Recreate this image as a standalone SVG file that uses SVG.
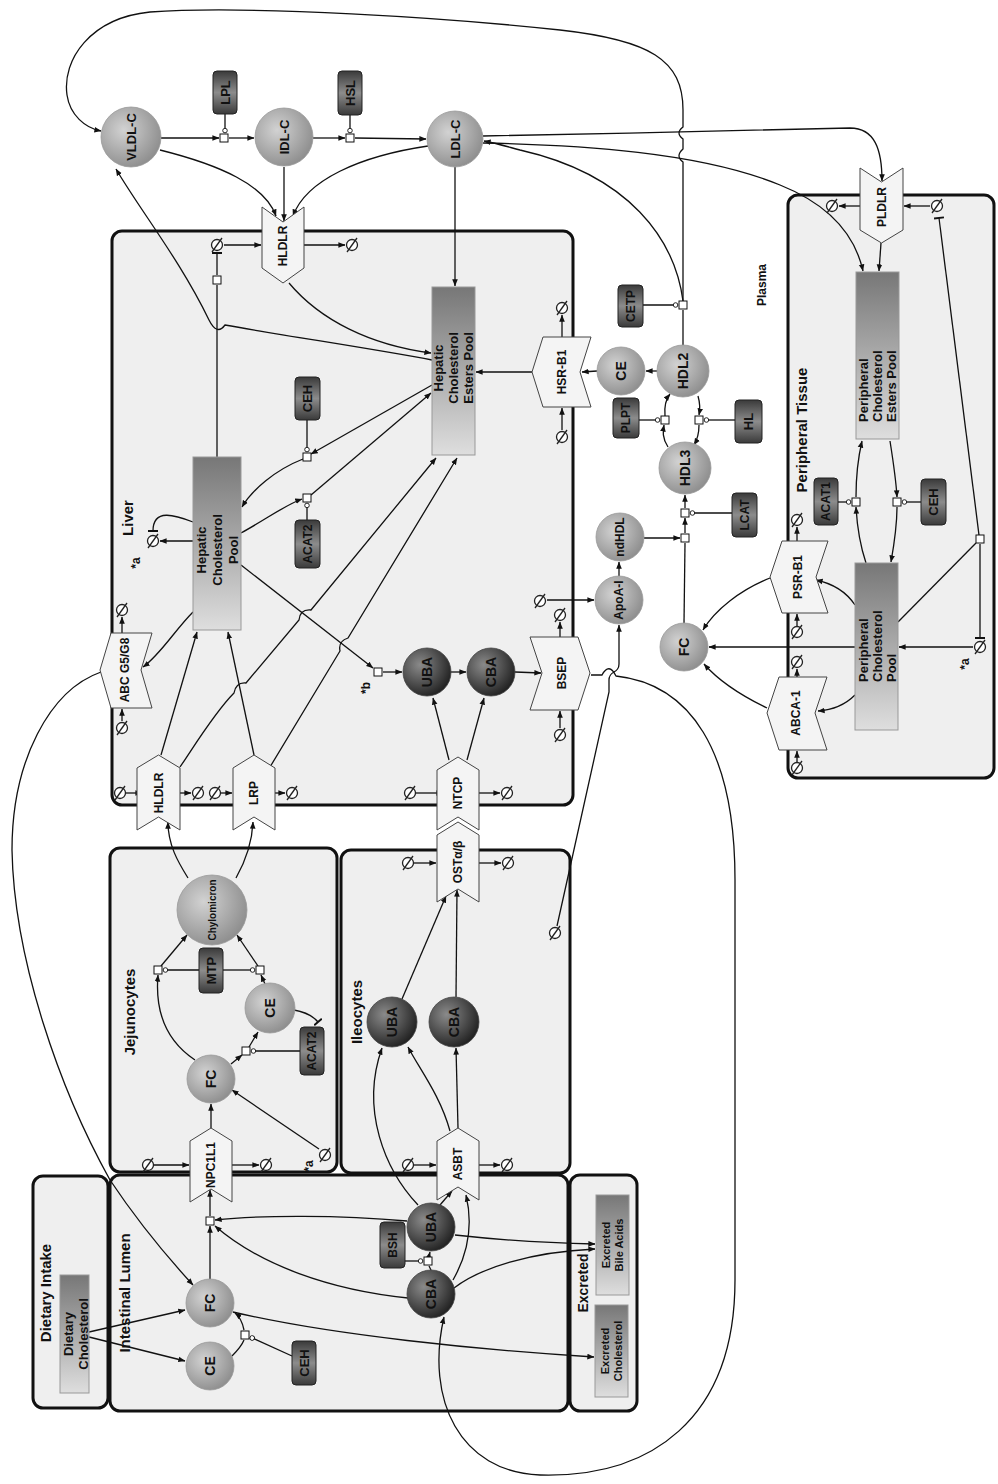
<svg xmlns="http://www.w3.org/2000/svg" xmlns:xlink="http://www.w3.org/1999/xlink" width="998" height="1484" viewBox="0 0 998 1484">
<defs>
<style>
.cmp{fill:#efefef;stroke:#111;stroke-width:3}
.tr{fill:#f4f4f4;stroke:#444;stroke-width:1}
.ln{fill:none;stroke:#111;stroke-width:1.3}
.sq{fill:#fff;stroke:#111;stroke-width:1}
.enz{fill:url(#gE);stroke:#222;stroke-width:1}
.pool{fill:url(#gP);stroke:#999;stroke-width:1}
.nd{fill:url(#gC);stroke:#999;stroke-width:0.8}
.dk{fill:url(#gD);stroke:#444;stroke-width:0.8}
text{font-family:"Liberation Sans",Arial,sans-serif;font-weight:bold;fill:#111;text-anchor:middle;dominant-baseline:central}
.t12{font-size:12px}
.t13{font-size:13px}
.t14{font-size:14px}
.t15{font-size:15px}
.t10{font-size:10px}
.t11{font-size:11px}
</style>
<radialGradient id="gC" cx="0.38" cy="0.38" r="0.7"><stop offset="0" stop-color="#d2d2d2"/><stop offset="1" stop-color="#8a8a8a"/></radialGradient>
<radialGradient id="gD" cx="0.35" cy="0.35" r="0.72"><stop offset="0" stop-color="#8a8a8a"/><stop offset="1" stop-color="#1e1e1e"/></radialGradient>
<linearGradient id="gP" x1="0" y1="0" x2="0" y2="1"><stop offset="0" stop-color="#777"/><stop offset="1" stop-color="#dedede"/></linearGradient>
<linearGradient id="gE" x1="0" y1="0" x2="0" y2="1"><stop offset="0" stop-color="#3a3a3a"/><stop offset="0.5" stop-color="#8c8c8c"/><stop offset="1" stop-color="#3a3a3a"/></linearGradient>
<marker id="a" viewBox="0 0 10 10" refX="9.5" refY="5" markerWidth="7" markerHeight="7" markerUnits="userSpaceOnUse" orient="auto"><path d="M0,1 L10,5 L0,9 z" fill="#111"/></marker>
<marker id="c" viewBox="0 0 10 10" refX="9" refY="5" markerWidth="6" markerHeight="6" markerUnits="userSpaceOnUse" orient="auto"><circle cx="5" cy="5" r="3.8" fill="#fff" stroke="#111" stroke-width="1.5"/></marker>
<marker id="b" viewBox="0 0 10 10" refX="8" refY="5" markerWidth="10" markerHeight="10" markerUnits="userSpaceOnUse" orient="auto"><path d="M8,0 L8,10" stroke="#111" stroke-width="2"/></marker>
<g id="em"><circle r="5.5" fill="#fff" stroke="#222" stroke-width="1.3"/><line x1="-5" y1="7" x2="5" y2="-7" stroke="#222" stroke-width="1.3"/></g>
</defs>
<rect width="998" height="1484" fill="#fff"/>

<g id="compartments">
<rect id="dietary-intake" class="cmp" x="33" y="1176" width="75" height="232" rx="10"/>
<rect id="intestinal-lumen" class="cmp" x="110" y="1175" width="458" height="236" rx="10"/>
<rect id="excreted" class="cmp" x="570" y="1175" width="67" height="236" rx="10"/>
<rect id="jejunocytes" class="cmp" x="110" y="848" width="227" height="324" rx="10"/>
<rect id="ileocytes" class="cmp" x="341" y="850" width="229" height="323" rx="10"/>
<rect id="liver" class="cmp" x="112" y="231" width="461" height="574" rx="10"/>
<rect id="peripheral" class="cmp" x="788" y="195" width="206" height="583" rx="10"/>
<text class="t15" transform="translate(45 1293) rotate(-90)">Dietary Intake</text>
<text class="t15" transform="translate(124 1293) rotate(-90)">Intestinal Lumen</text>
<text class="t14" transform="translate(583 1283) rotate(-90)">Excreted</text>
<text class="t15" transform="translate(129 1012) rotate(-90)">Jejunocytes</text>
<text class="t15" transform="translate(356 1012) rotate(-90)">Ileocytes</text>
<text class="t15" transform="translate(127 518) rotate(-90)">Liver</text>
<text class="t15" transform="translate(801 430) rotate(-90)">Peripheral Tissue</text>
<text class="t12" transform="translate(762 285) rotate(-90)">Plasma</text>
<text class="t12" transform="translate(136 563) rotate(-90)">*a</text>
<text class="t12" transform="translate(309 1166) rotate(-90)">*a</text>
<text class="t12" transform="translate(965 664) rotate(-90)">*a</text>
<text class="t12" transform="translate(366 688) rotate(-90)">*b</text>
</g>

<g id="connectors" class="ln">
<!-- plasma lipoprotein chain -->
<path d="M161 138 L219 138" marker-end="url(#a)"/>
<path d="M229 138 L254 138" marker-end="url(#a)"/>
<path d="M225 114 L225 133" marker-end="url(#c)"/>
<path d="M313 138 L345 138" marker-end="url(#a)"/>
<path d="M355 138 L426 139" marker-end="url(#a)"/>
<path d="M350 115 L350 133" marker-end="url(#c)"/>
<path d="M160 150 C220 165 265 185 276 216" marker-end="url(#a)"/>
<path d="M284 167 L284 221" marker-end="url(#a)"/>
<path d="M428 146 C360 156 306 180 293 216" marker-end="url(#a)"/>
<path d="M455 167 L455 286" marker-end="url(#a)"/>
<path d="M483 136 C600 134 760 130 850 128 C875 128 882 150 882 181" marker-end="url(#a)"/>
<path d="M483 143 C580 145 700 152 780 185 C830 205 855 235 863 271" marker-end="url(#a)"/>
<path d="M683 301 C675 240 630 175 520 150 C505 146 495 143 484 141" marker-end="url(#a)"/>
<path d="M683 301 L683 162 Q675 156 683 149 L683 139 Q675 133 683 127 L683 110 C683 60 650 40 560 30 C450 18 250 5 150 12 C90 18 62 60 67 95 C70 115 85 128 101 131" marker-end="url(#a)"/>
<!-- HDL -->
<path d="M683 345 L683 310"/>
<path d="M643 305 L678 305" marker-end="url(#c)"/>
<path d="M657 371 L646 371" marker-end="url(#a)"/>
<path d="M597 371 L582 372" marker-end="url(#a)"/>
<path d="M532 372 L476 372" marker-end="url(#a)"/>
<path d="M562 430 L562 408" marker-end="url(#a)"/>
<path d="M562 337 L562 315" marker-end="url(#a)"/>
<path d="M668 447 C662 438 663 431 664 425" marker-end="url(#a)"/>
<path d="M665 416 C664 405 666 399 670 394" marker-end="url(#a)"/>
<path d="M698 396 C700 403 700 410 699 415" marker-end="url(#a)"/>
<path d="M699 425 C699 432 697 440 694 445" marker-end="url(#a)"/>
<path d="M639 420 L660 420" marker-end="url(#c)"/>
<path d="M735 420 L704 420" marker-end="url(#c)"/>
<path d="M644 538 L680 538" marker-end="url(#a)"/>
<path d="M684 623 L685 543"/>
<path d="M685 533 L685 518" marker-end="url(#a)"/>
<path d="M685 508 L685 495" marker-end="url(#a)"/>
<path d="M732 513 L690 513" marker-end="url(#c)"/>
<path d="M619 576 L619 562" marker-end="url(#a)"/>
<path d="M547 600 L594 600" marker-end="url(#a)"/>
<path d="M557 926 L609 692 L609 680 C609 670 619 674 619 664 L619 625" marker-end="url(#a)"/>
<path d="M591 675 L602 675 Q609 662 616 676 C690 684 735 750 735 880 L735 1280 C735 1420 650 1478 540 1475 C460 1472 425 1400 444 1317" marker-end="url(#a)"/>
<!-- liver bile acids -->
<path d="M515 672 L541 673" marker-end="url(#a)"/>
<path d="M451 672 L466 672" marker-end="url(#a)"/>
<path d="M383 672 L402 672" marker-end="url(#a)"/>
<path d="M241 565 L373 668" marker-end="url(#a)"/>
<path d="M449 760 L433 698" marker-end="url(#a)"/>
<path d="M467 760 L484 698" marker-end="url(#a)"/>
<path d="M410 793 L437 793" marker-end="url(#a)" transform="translate(6 0)"/>
<path d="M479 793 L500 793" marker-end="url(#a)"/>
<path d="M560 728 L560 711" marker-end="url(#a)"/>
<path d="M560 637 L560 622" marker-end="url(#a)"/>
<!-- liver cholesterol -->
<path d="M180 767 C195 745 215 712 234 693 Q236 682 246 683 L299 620 Q300 609 311 610 L436 458" marker-end="url(#a)"/>
<path d="M270 767 L340 651 Q338 641 348 638 L457 458" marker-end="url(#a)"/>
<path d="M254 755 L228 632" marker-end="url(#a)"/>
<path d="M161 755 L197 632" marker-end="url(#a)"/>
<path d="M432 360 C380 350 280 335 225 325 Q217 336 209 320 C180 260 140 210 116 169" marker-end="url(#a)"/>
<path d="M289 283 C320 320 370 345 431 353" marker-end="url(#a)"/>
<path d="M217 457 L217 285"/>
<path d="M217 275 L217 253" marker-end="url(#b)"/>
<path d="M224 245 L261 245" marker-end="url(#a)"/>
<path d="M304 245 L345 245" marker-end="url(#a)"/>
<path d="M432 385 L311 454" marker-end="url(#a)"/>
<path d="M303 459 C275 470 252 490 242 507" marker-end="url(#a)"/>
<path d="M307 420 L307 452" marker-end="url(#c)"/>
<path d="M241 533 C265 520 285 505 302 499" marker-end="url(#a)"/>
<path d="M311 495 L431 393" marker-end="url(#a)"/>
<path d="M307 520 L307 503" marker-end="url(#c)"/>
<path d="M193 541 L160 541" marker-end="url(#a)"/>
<path d="M193 522 C175 515 153 508 153 531" marker-end="url(#b)"/>
<path d="M193 612 C175 630 160 655 143 667" marker-end="url(#a)"/>
<path d="M122 721 L122 709" marker-end="url(#a)"/>
<path d="M122 633 L122 617" marker-end="url(#a)"/>
<path d="M120 793 L136 793" marker-end="url(#a)" transform="translate(6 0)"/>
<path d="M180 793 L191 793" marker-end="url(#a)"/>
<path d="M221 793 L232 793" marker-end="url(#a)"/>
<path d="M275 793 L285 793" marker-end="url(#a)"/>
<path d="M101 672 C50 690 12 760 12 850 C14 960 60 1090 110 1180 C140 1225 170 1260 193 1285" marker-end="url(#a)"/>
<!-- lumen -->
<path d="M89 1332 L185 1310" marker-end="url(#a)"/>
<path d="M89 1337 L185 1361" marker-end="url(#a)"/>
<path d="M232 1356 C238 1350 242 1345 244 1340"/>
<path d="M244 1330 C242 1320 239 1316 235 1313" marker-end="url(#a)"/>
<path d="M292 1356 L250 1337" marker-end="url(#c)"/>
<path d="M210 1279 L210 1226" marker-end="url(#a)"/>
<path d="M210 1216 L210 1190" marker-end="url(#a)"/>
<path d="M407 1221 C340 1215 260 1215 215 1220" marker-end="url(#a)"/>
<path d="M408 1298 C330 1290 260 1265 215 1226" marker-end="url(#a)"/>
<path d="M233 1312 C330 1335 480 1350 594 1357" marker-end="url(#a)"/>
<path d="M405 1261 L423 1261" marker-end="url(#c)"/>
<path d="M431 1270 L429 1266"/>
<path d="M429 1256 L430 1252" marker-end="url(#a)"/>
<path d="M418 1205 C385 1170 360 1110 382 1048" marker-end="url(#a)"/>
<path d="M440 1205 L452 1191" marker-end="url(#a)"/>
<path d="M453 1280 C470 1250 472 1220 466 1195" marker-end="url(#a)"/>
<path d="M455 1235 C500 1240 550 1243 595 1244" marker-end="url(#a)"/>
<path d="M454 1288 C480 1268 530 1252 595 1249" marker-end="url(#a)"/>
<!-- ileocytes -->
<path d="M458 1128 L456 1048" marker-end="url(#a)"/>
<path d="M450 1131 C440 1095 420 1070 408 1047" marker-end="url(#a)"/>
<path d="M402 999 L446 896" marker-end="url(#a)"/>
<path d="M456 997 L457 890" marker-end="url(#a)"/>
<path d="M414 863 L436 863" marker-end="url(#a)"/>
<path d="M479 863 L501 863" marker-end="url(#a)"/>
<path d="M414 1165 L436 1165" marker-end="url(#a)"/>
<path d="M479 1165 L500 1165" marker-end="url(#a)"/>
<!-- jejunocytes -->
<path d="M211 1128 L211 1104" marker-end="url(#a)"/>
<path d="M319 1149 L232 1090" marker-end="url(#a)"/>
<path d="M231 1064 L242 1055" marker-end="url(#a)"/>
<path d="M249 1047 L258 1032" marker-end="url(#a)"/>
<path d="M300 1051 L251 1051" marker-end="url(#c)"/>
<path d="M294 1010 C305 1012 313 1016 318 1022" marker-end="url(#b)"/>
<path d="M195 1060 C165 1040 155 1010 158 975" marker-end="url(#a)"/>
<path d="M161 966 L187 935" marker-end="url(#a)"/>
<path d="M265 984 L261 975" marker-end="url(#a)"/>
<path d="M258 966 L237 935" marker-end="url(#a)"/>
<path d="M199 970 L163 970" marker-end="url(#c)"/>
<path d="M223 970 L255 970" marker-end="url(#c)"/>
<path d="M188 878 C178 862 168 845 168 822" marker-end="url(#a)"/>
<path d="M236 878 C245 862 252 845 253 822" marker-end="url(#a)"/>
<path d="M154 1165 L189 1165" marker-end="url(#a)"/>
<path d="M232 1165 L259 1165" marker-end="url(#a)"/>
<!-- peripheral -->
<path d="M881 243 L879 271" marker-end="url(#a)"/>
<path d="M930 206 L904 206" marker-end="url(#a)"/>
<path d="M860 206 L839 206" marker-end="url(#a)"/>
<path d="M898 622 L976 543"/>
<path d="M979 535 L939 218" marker-end="url(#b)"/>
<path d="M980 544 L980 638" marker-end="url(#b)"/>
<path d="M973 647 L899 647" marker-end="url(#a)"/>
<path d="M855 647 L709 647" marker-end="url(#a)"/>
<path d="M855 605 C845 590 830 583 816 580" marker-end="url(#a)"/>
<path d="M770 578 C740 590 715 610 703 630" marker-end="url(#a)"/>
<path d="M855 695 C845 705 832 710 818 711" marker-end="url(#a)"/>
<path d="M767 708 C740 695 718 680 704 664" marker-end="url(#a)"/>
<path d="M797 541 L797 527" marker-end="url(#a)"/>
<path d="M797 626 L797 614" marker-end="url(#a)"/>
<path d="M797 677 L797 669" marker-end="url(#a)"/>
<path d="M797 762 L797 751" marker-end="url(#a)"/>
<path d="M866 563 C860 545 857 525 856 507" marker-end="url(#a)"/>
<path d="M856 497 C856 475 858 458 862 441" marker-end="url(#a)"/>
<path d="M890 441 C893 460 896 480 897 497" marker-end="url(#a)"/>
<path d="M897 507 C897 525 894 545 891 562" marker-end="url(#a)"/>
<path d="M838 502 L851 502" marker-end="url(#c)"/>
<path d="M922 502 L902 502" marker-end="url(#c)"/>
</g>

<g id="sinks">
<use xlink:href="#em" x="217" y="245"/><use xlink:href="#em" x="352" y="245"/>
<use xlink:href="#em" x="153" y="541"/><use xlink:href="#em" x="122" y="610"/>
<use xlink:href="#em" x="122" y="728"/><use xlink:href="#em" x="120" y="793"/>
<use xlink:href="#em" x="198" y="793"/><use xlink:href="#em" x="215" y="793"/>
<use xlink:href="#em" x="292" y="793"/><use xlink:href="#em" x="410" y="793"/>
<use xlink:href="#em" x="507" y="793"/><use xlink:href="#em" x="560" y="615"/>
<use xlink:href="#em" x="560" y="735"/><use xlink:href="#em" x="540" y="601"/>
<use xlink:href="#em" x="562" y="308"/><use xlink:href="#em" x="562" y="437"/>
<use xlink:href="#em" x="148" y="1165"/><use xlink:href="#em" x="266" y="1165"/>
<use xlink:href="#em" x="325" y="1155"/><use xlink:href="#em" x="408" y="863"/>
<use xlink:href="#em" x="508" y="863"/><use xlink:href="#em" x="408" y="1165"/>
<use xlink:href="#em" x="507" y="1165"/><use xlink:href="#em" x="555" y="933"/>
<use xlink:href="#em" x="832" y="206"/><use xlink:href="#em" x="937" y="206"/>
<use xlink:href="#em" x="797" y="520"/><use xlink:href="#em" x="797" y="632"/>
<use xlink:href="#em" x="797" y="662"/><use xlink:href="#em" x="797" y="768"/>
<use xlink:href="#em" x="980" y="647"/>
</g>

<g id="process-squares">
<rect class="sq" x="220" y="134" width="8" height="8"/>
<rect class="sq" x="346" y="134" width="8" height="8"/>
<rect class="sq" x="679" y="301" width="8" height="8"/>
<rect class="sq" x="661" y="416" width="8" height="8"/>
<rect class="sq" x="695" y="416" width="8" height="8"/>
<rect class="sq" x="681" y="509" width="8" height="8"/>
<rect class="sq" x="681" y="534" width="8" height="8"/>
<rect class="sq" x="213" y="276" width="8" height="8"/>
<rect class="sq" x="303" y="453" width="8" height="8"/>
<rect class="sq" x="303" y="494" width="8" height="8"/>
<rect class="sq" x="374" y="668" width="8" height="8"/>
<rect class="sq" x="154" y="966" width="8" height="8"/>
<rect class="sq" x="256" y="966" width="8" height="8"/>
<rect class="sq" x="242" y="1047" width="8" height="8"/>
<rect class="sq" x="206" y="1217" width="8" height="8"/>
<rect class="sq" x="241" y="1331" width="8" height="8"/>
<rect class="sq" x="424" y="1257" width="8" height="8"/>
<rect class="sq" x="852" y="498" width="8" height="8"/>
<rect class="sq" x="893" y="498" width="8" height="8"/>
<rect class="sq" x="976" y="535" width="8" height="8"/>
</g>

<g id="transporters">
<g id="NPC1L1"><polygon class="tr" points="190,1141 211,1128 232,1141 232,1202 211,1189 190,1202"/><text class="t12" transform="translate(211 1165) rotate(-90)">NPC1L1</text></g>
<g id="ASBT"><polygon class="tr" points="437,1141 458,1128 479,1141 479,1200 458,1187 437,1200"/><text class="t12" transform="translate(458 1164) rotate(-90)">ASBT</text></g>
<g id="OST"><polygon class="tr" points="437,835 458,822 479,835 479,902 458,889 437,902"/><text class="t12" transform="translate(458 862) rotate(-90)">OSTα/β</text></g>
<g id="NTCP"><polygon class="tr" points="437,770 458,757 479,770 479,830 458,817 437,830"/><text class="t12" transform="translate(458 793) rotate(-90)">NTCP</text></g>
<g id="HLDLR-b"><polygon class="tr" points="137,768 158.5,755 180,768 180,830 158.5,817 137,830"/><text class="t12" transform="translate(158.5 793) rotate(-90)">HLDLR</text></g>
<g id="LRP"><polygon class="tr" points="233,768 254,755 275,768 275,830 254,817 233,830"/><text class="t12" transform="translate(254 793) rotate(-90)">LRP</text></g>
<g id="HLDLR-t"><polygon class="tr" points="262,207 283,222 304,207 304,268 283,283 262,268"/><text class="t12" transform="translate(283 246) rotate(-90)">HLDLR</text></g>
<g id="PLDLR"><polygon class="tr" points="860,168 881.5,182 903,168 903,230 881.5,243 860,230"/><text class="t12" transform="translate(881.5 207) rotate(-90)">PLDLR</text></g>
<g id="ABCG5G8"><polygon class="tr" points="100,670 111,633 152,633 141,670 152,708 111,708"/><text class="t12" transform="translate(125 670) rotate(-90)">ABC G5/G8</text></g>
<g id="HSR-B1"><polygon class="tr" points="532,372 543,337 591,337 580,372 591,407 543,407"/><text class="t12" transform="translate(562 372) rotate(-90)">HSR-B1</text></g>
<g id="PSR-B1"><polygon class="tr" points="770,577 782,541 828,541 816,577 828,613 782,613"/><text class="t12" transform="translate(798 577) rotate(-90)">PSR-B1</text></g>
<g id="ABCA-1"><polygon class="tr" points="767,713 779,677 827,677 815,713 827,750 779,750"/><text class="t12" transform="translate(796 713) rotate(-90)">ABCA-1</text></g>
<g id="BSEP"><polygon class="tr" points="530,637 578,637 590,673 578,710 530,710 542,673"/><text class="t12" transform="translate(562 673) rotate(-90)">BSEP</text></g>
</g>

<g id="pools">
<g id="dietary-cholesterol"><rect class="pool" x="60" y="1275" width="29" height="118"/><text class="t13" transform="translate(74.5 1334) rotate(-90)"><tspan x="0" y="-7">Dietary</tspan><tspan x="0" y="8">Cholesterol</tspan></text></g>
<g id="hepatic-chol-pool"><rect class="pool" x="193" y="457" width="48" height="173"/><text class="t13" transform="translate(217 550) rotate(-90)"><tspan x="0" y="-16">Hepatic</tspan><tspan x="0" y="0">Cholesterol</tspan><tspan x="0" y="16">Pool</tspan></text></g>
<g id="hepatic-ce-pool"><rect class="pool" x="432" y="287" width="43" height="168"/><text class="t13" transform="translate(453 368) rotate(-90)"><tspan x="0" y="-15">Hepatic</tspan><tspan x="0" y="0">Cholesterol</tspan><tspan x="0" y="15">Esters Pool</tspan></text></g>
<g id="peripheral-ce-pool"><rect class="pool" x="856" y="272" width="43" height="167"/><text class="t13" transform="translate(877 422) rotate(-90)" style="text-anchor:start"><tspan x="0" y="-14">Peripheral</tspan><tspan x="0" y="0">Cholesterol</tspan><tspan x="0" y="14">Esters Pool</tspan></text></g>
<g id="peripheral-chol-pool"><rect class="pool" x="855" y="563" width="43" height="167"/><text class="t13" transform="translate(877 682) rotate(-90)" style="text-anchor:start"><tspan x="0" y="-14">Peripheral</tspan><tspan x="0" y="0">Cholesterol</tspan><tspan x="0" y="14">Pool</tspan></text></g>
<g id="excreted-bile-acids"><rect class="pool" x="596" y="1195" width="33" height="100"/><text class="t11" transform="translate(612 1245) rotate(-90)"><tspan x="0" y="-6">Excreted</tspan><tspan x="0" y="7">Bile Acids</tspan></text></g>
<g id="excreted-cholesterol"><rect class="pool" x="595" y="1305" width="33" height="92"/><text class="t11" transform="translate(611 1351) rotate(-90)"><tspan x="0" y="-6">Excreted</tspan><tspan x="0" y="7">Cholesterol</tspan></text></g>
</g>

<g id="species">
<g id="VLDL-C"><circle class="nd" cx="131" cy="137" r="30"/><text class="t13" transform="translate(131 137) rotate(-90)">VLDL-C</text></g>
<g id="IDL-C"><circle class="nd" cx="284" cy="137" r="29"/><text class="t13" transform="translate(284 137) rotate(-90)">IDL-C</text></g>
<g id="LDL-C"><circle class="nd" cx="455" cy="139" r="28"/><text class="t13" transform="translate(455 139) rotate(-90)">LDL-C</text></g>
<g id="HDL2"><circle class="nd" cx="683" cy="371" r="26"/><text class="t14" transform="translate(683 371) rotate(-90)">HDL2</text></g>
<g id="CE-plasma"><circle class="nd" cx="621" cy="371" r="24"/><text class="t14" transform="translate(621 371) rotate(-90)">CE</text></g>
<g id="HDL3"><circle class="nd" cx="685" cy="468" r="26"/><text class="t14" transform="translate(685 468) rotate(-90)">HDL3</text></g>
<g id="ndHDL"><circle class="nd" cx="620" cy="537" r="24"/><text class="t12" transform="translate(620 537) rotate(-90)">ndHDL</text></g>
<g id="ApoA-I"><circle class="nd" cx="619" cy="600" r="24"/><text class="t12" transform="translate(619 600) rotate(-90)">ApoA-I</text></g>
<g id="FC-plasma"><circle class="nd" cx="684" cy="647" r="24"/><text class="t14" transform="translate(684 647) rotate(-90)">FC</text></g>
<g id="UBA-liver"><circle class="dk" cx="427" cy="672" r="24"/><text class="t14" transform="translate(427 672) rotate(-90)">UBA</text></g>
<g id="CBA-liver"><circle class="dk" cx="491" cy="672" r="24"/><text class="t14" transform="translate(491 672) rotate(-90)">CBA</text></g>
<g id="FC-jej"><circle class="nd" cx="211" cy="1079" r="24"/><text class="t14" transform="translate(211 1079) rotate(-90)">FC</text></g>
<g id="CE-jej"><circle class="nd" cx="270" cy="1008" r="25"/><text class="t14" transform="translate(270 1008) rotate(-90)">CE</text></g>
<g id="Chylomicron"><circle class="nd" cx="212" cy="910" r="35"/><text class="t10" transform="translate(212 910) rotate(-90)">Chylomicron</text></g>
<g id="UBA-ileo"><circle class="dk" cx="392" cy="1022" r="25"/><text class="t14" transform="translate(392 1022) rotate(-90)">UBA</text></g>
<g id="CBA-ileo"><circle class="dk" cx="454" cy="1022" r="25"/><text class="t14" transform="translate(454 1022) rotate(-90)">CBA</text></g>
<g id="FC-lumen"><circle class="nd" cx="210" cy="1303" r="24"/><text class="t14" transform="translate(210 1303) rotate(-90)">FC</text></g>
<g id="CE-lumen"><circle class="nd" cx="210" cy="1366" r="24"/><text class="t14" transform="translate(210 1366) rotate(-90)">CE</text></g>
<g id="UBA-lumen"><circle class="dk" cx="431" cy="1227" r="24"/><text class="t14" transform="translate(431 1227) rotate(-90)">UBA</text></g>
<g id="CBA-lumen"><circle class="dk" cx="431" cy="1294" r="24"/><text class="t14" transform="translate(431 1294) rotate(-90)">CBA</text></g>
</g>

<g id="enzymes">
<g id="LPL"><rect class="enz" x="213" y="71" width="24" height="43" rx="4"/><text class="t13" transform="translate(225 92.5) rotate(-90)">LPL</text></g>
<g id="HSL"><rect class="enz" x="338" y="71" width="24" height="44" rx="4"/><text class="t13" transform="translate(350 93) rotate(-90)">HSL</text></g>
<g id="CETP"><rect class="enz" x="618" y="285" width="25" height="42" rx="4"/><text class="t12" transform="translate(630.5 306) rotate(-90)">CETP</text></g>
<g id="PLPT"><rect class="enz" x="613" y="398" width="26" height="40" rx="4"/><text class="t12" transform="translate(626 418) rotate(-90)">PLPT</text></g>
<g id="HL"><rect class="enz" x="735" y="400" width="27" height="43" rx="4"/><text class="t13" transform="translate(748.5 421.5) rotate(-90)">HL</text></g>
<g id="LCAT"><rect class="enz" x="732" y="493" width="25" height="44" rx="4"/><text class="t12" transform="translate(744.5 515) rotate(-90)">LCAT</text></g>
<g id="CEH-liver"><rect class="enz" x="295" y="377" width="25" height="43" rx="4"/><text class="t13" transform="translate(307.5 398.5) rotate(-90)">CEH</text></g>
<g id="ACAT2-liver"><rect class="enz" x="295" y="520" width="25" height="48" rx="4"/><text class="t12" transform="translate(307.5 544) rotate(-90)">ACAT2</text></g>
<g id="MTP"><rect class="enz" x="199" y="948" width="24" height="45" rx="4"/><text class="t13" transform="translate(211 970.5) rotate(-90)">MTP</text></g>
<g id="ACAT2-jej"><rect class="enz" x="300" y="1027" width="24" height="48" rx="4"/><text class="t12" transform="translate(312 1051) rotate(-90)">ACAT2</text></g>
<g id="CEH-lumen"><rect class="enz" x="292" y="1341" width="24" height="44" rx="4"/><text class="t13" transform="translate(304 1363) rotate(-90)">CEH</text></g>
<g id="BSH"><rect class="enz" x="380" y="1222" width="25" height="46" rx="4"/><text class="t12" transform="translate(392.5 1245) rotate(-90)">BSH</text></g>
<g id="ACAT1"><rect class="enz" x="814" y="478" width="24" height="47" rx="4"/><text class="t12" transform="translate(826 501.5) rotate(-90)">ACAT1</text></g>
<g id="CEH-per"><rect class="enz" x="921" y="479" width="25" height="46" rx="4"/><text class="t13" transform="translate(933.5 502) rotate(-90)">CEH</text></g>
</g>
</svg>
